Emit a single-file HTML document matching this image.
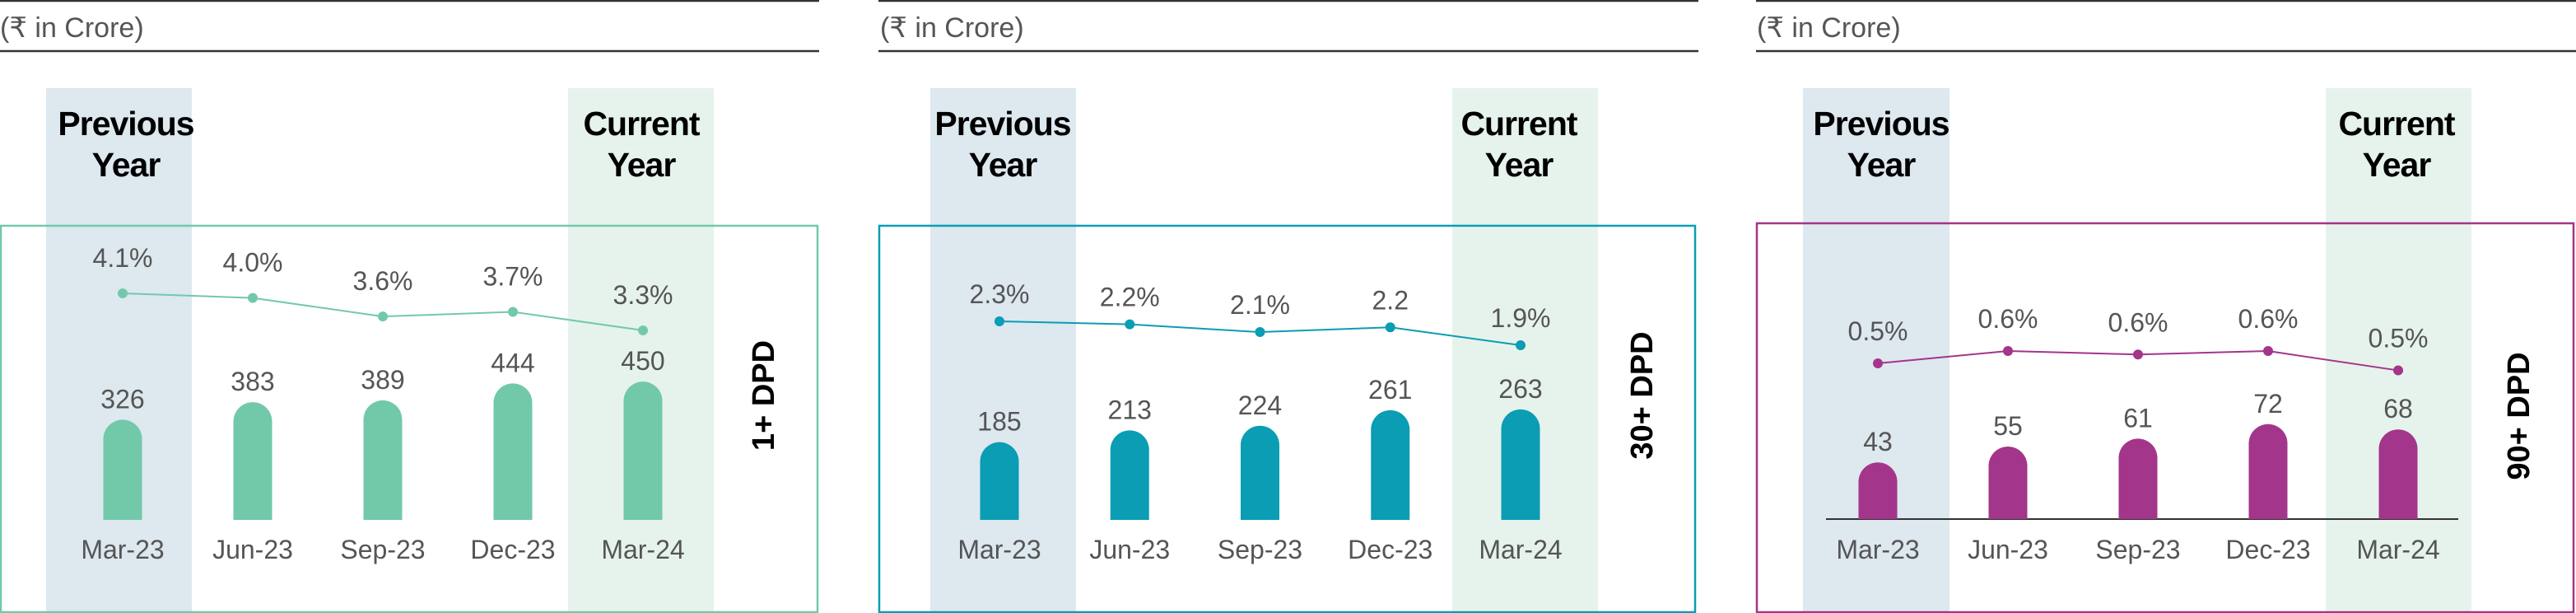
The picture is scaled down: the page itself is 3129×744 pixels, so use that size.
<!DOCTYPE html>
<html><head><meta charset="utf-8"><style>
html,body{margin:0;padding:0;background:#fff;}
svg{display:block;font-family:"Liberation Sans",sans-serif;}
</style></head><body>
<svg id="chart" width="3129" height="744" viewBox="0 0 3129 744"></svg>
<script>
const categories = ["Mar-23","Jun-23","Sep-23","Dec-23","Mar-24"];
const amounts1 = [326,383,389,444,450];
const rates1 = [4.1,4.0,3.6,3.7,3.3];
const rateLabels1 = ["4.1%","4.0%","3.6%","3.7%","3.3%"];
const amounts2 = [185,213,224,261,263];
const rates2 = [2.3,2.25,2.12,2.2,1.9];
const rateLabels2 = ["2.3%","2.2%","2.1%","2.2","1.9%"];
const amounts3 = [43,55,61,72,68];
const rates3 = [0.51,0.58,0.56,0.58,0.47];
const rateLabels3 = ["0.5%","0.6%","0.6%","0.6%","0.5%"];
const titles = ["1+ DPD","30+ DPD","90+ DPD"];

const NS="http://www.w3.org/2000/svg";
const svg=document.getElementById('chart');
function mk(tag,attrs,parent){const e=document.createElementNS(NS,tag);for(const k in attrs)e.setAttribute(k,attrs[k]);(parent||svg).appendChild(e);return e;}

const panels=[
 {amounts:amounts1,rates:rates1,labels:rateLabels1,title:titles[0],color:"#72c9aa",
  lineX0:0,lineX1:995,textX:0,prev:[56,233],cur:[690,867],box:[1,274,993,743],
  x0:149,step:158,base:631,hs:0.373,rY0:356,rV0:4.1,rK:56.25,rOff:32,titleX:928,titleY:480,axis:false},
 {amounts:amounts2,rates:rates2,labels:rateLabels2,title:titles[1],color:"#0a9db4",
  lineX0:1067,lineX1:2063,textX:1069,prev:[1130,1307],cur:[1764,1941],box:[1068,274,2059,743],
  x0:1214,step:158.25,base:631,hs:0.51,rY0:390,rV0:2.3,rK:72.5,rOff:22,titleX:1995,titleY:480,axis:false},
 {amounts:amounts3,rates:rates3,labels:rateLabels3,title:titles[2],color:"#a3358a",
  lineX0:2133,lineX1:3129,textX:2134,prev:[2190,2368],cur:[2825,3002],box:[2134,271,3126,743],
  x0:2281,step:158,base:630,hs:1.6,rY0:441,rV0:0.51,rK:214,rOff:28,titleX:3060,titleY:505,axis:true}
];

panels.forEach((p,pi)=>{
  const g=mk('g',{});
  
  
  const xAt=i=>p.x0+i*p.step;
  const yBar=v=>p.base-v*p.hs;
  const yRate=v=>p.rY0-(v-p.rV0)*p.rK;

  let e=mk('line',{x1:p.lineX0,x2:p.lineX1,y1:1,y2:1,stroke:"#333",'stroke-width':2.5},g);
  
  e=mk('line',{x1:p.lineX0,x2:p.lineX1,y1:62,y2:62,stroke:"#333",'stroke-width':2.5},g);
  
  e=mk('text',{x:p.textX,y:45,'font-size':34,fill:"#555"},g);e.textContent="(₹ in Crore)";
  

  e=mk('rect',{x:p.prev[0],y:107,width:p.prev[1]-p.prev[0],height:637,fill:"#dde8ef"},g);
  
  e=mk('rect',{x:p.cur[0],y:107,width:p.cur[1]-p.cur[0],height:637,fill:"#e6f3ec"},g);
  

  [["Previous",164],["Year",214]].forEach(([t,y])=>{
    const tx=mk('text',{x:xAt(0)+4,y:y,'font-size':41,'font-weight':'bold',fill:"#000",'text-anchor':'middle','letter-spacing':-1},g);
    tx.textContent=t;
    
    
  });
  [["Current",164],["Year",214]].forEach(([t,y])=>{
    const tx=mk('text',{x:xAt(4)-2,y:y,'font-size':41,'font-weight':'bold',fill:"#000",'text-anchor':'middle','letter-spacing':-1},g);
    tx.textContent=t;
    
    
  });

  e=mk('rect',{x:p.box[0],y:p.box[1],width:p.box[2]-p.box[0],height:p.box[3]-p.box[1],fill:"none",stroke:p.color,'stroke-width':2.5},g);
  

  if(p.axis){
    e=mk('line',{x1:2218,x2:2986,y1:p.base,y2:p.base,stroke:"#333",'stroke-width':2},g);
    
  }

  // bars
  const bw=47,r=bw/2;
  p.amounts.forEach((v,i)=>{
    const cx=xAt(i),top=yBar(v),base=p.base;
    const d=`M${cx-r},${base} L${cx-r},${top+r} A${r},${r} 0 0 1 ${cx+r},${top+r} L${cx+r},${base} Z`;
    const b=mk('path',{d:d,fill:p.color},g);
    
    
    const t=mk('text',{x:cx,y:top-14,'font-size':32,fill:"#555",'text-anchor':'middle'},g);
    t.textContent=v;
    
    
    const xl=mk('text',{x:cx,y:678,'font-size':32,fill:"#555",'text-anchor':'middle'},g);
    xl.textContent=categories[i];
    
    
  });

  // rate line
  const pts=p.rates.map((v,i)=>xAt(i)+','+yRate(v)).join(' ');
  e=mk('polyline',{points:pts,fill:"none",stroke:p.color,'stroke-width':2},g);
  
  p.rates.forEach((v,i)=>{
    const c=mk('circle',{cx:xAt(i),cy:yRate(v),r:6,fill:p.color},g);
    
    
    const t=mk('text',{x:xAt(i),y:yRate(v)-p.rOff,'font-size':32,fill:"#555",'text-anchor':'middle'},g);
    t.textContent=p.labels[i];
    
    
  });

  e=mk('text',{x:p.titleX,y:p.titleY,'font-size':38,'font-weight':'bold',fill:"#000",'text-anchor':'middle','dominant-baseline':'central',transform:`rotate(-90 ${p.titleX} ${p.titleY})`},g);
  e.textContent=p.title;
  
});
</script>
</body></html>
